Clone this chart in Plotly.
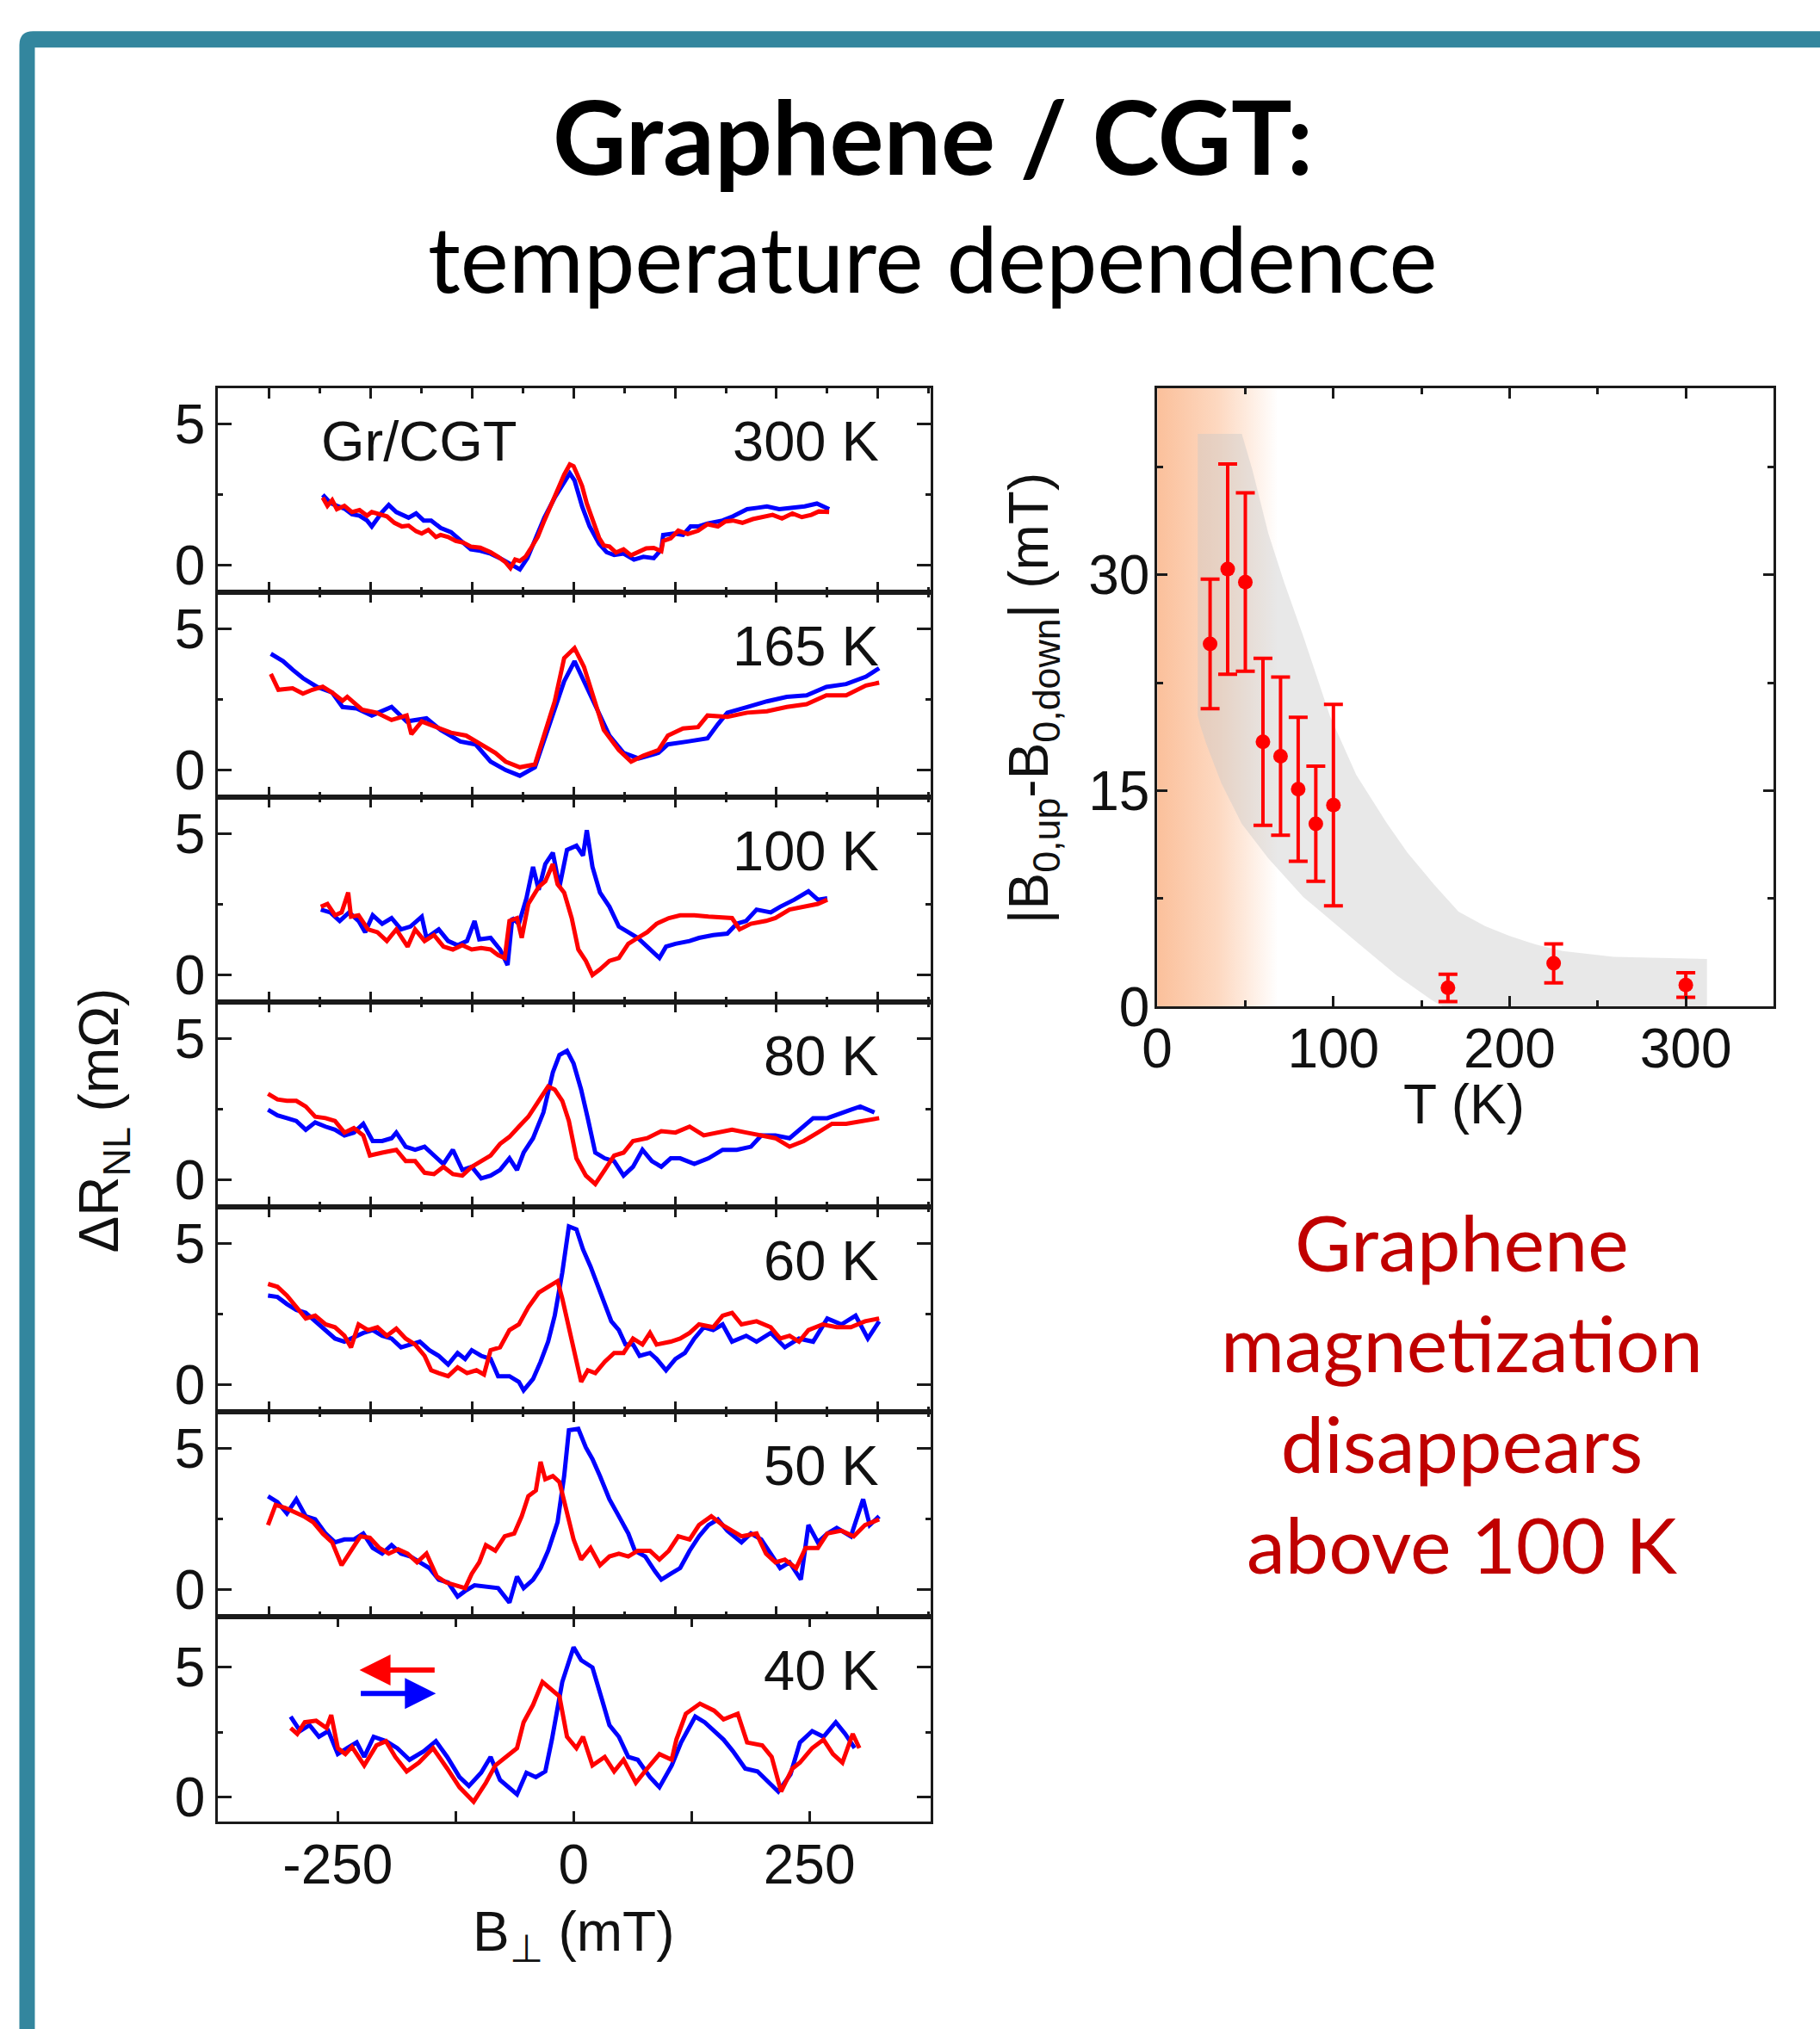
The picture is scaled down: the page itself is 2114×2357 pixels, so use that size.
import plotly.graph_objects as go

W, H = 2114, 2357

# ---------------- data: left stack (B_perp in mT, dR_NL in mOhm) ----------------
panel_labels = ["300 K", "165 K", "100 K", "80 K", "60 K", "50 K", "40 K"]

x300r = [-266,-261,-256,-251,-243,-235,-227,-219,-214,-206,-198,-190,-182,-175,-167,-161,-154,-146,-141,-133,-125,-117,-109,-99,-88,-80,-72,-67,-62,-57,-51,-46,-38,-31,-23,-17,-10,-4,0,4,9,14,21,27,32,38,45,53,61,69,77,85,93,95,103,111,121,132,142,153,161,169,179,190,200,211,221,232,242,252,260,271]
y300r = [2.39,2.10,2.30,1.98,2.10,1.88,1.95,1.75,1.88,1.80,1.73,1.50,1.37,1.40,1.20,1.12,1.25,1.00,1.07,1.00,0.86,0.80,0.66,0.62,0.46,0.30,0.10,-0.10,0.20,0.15,0.30,0.56,1.00,1.58,2.20,2.59,3.20,3.56,3.50,3.20,2.80,2.18,1.50,0.97,0.70,0.66,0.45,0.56,0.35,0.46,0.60,0.61,0.50,0.86,0.95,1.22,1.10,1.22,1.45,1.37,1.55,1.58,1.50,1.63,1.70,1.78,1.65,1.83,1.70,1.78,1.90,1.88]
x300b = [-266,-258,-251,-243,-235,-227,-219,-214,-203,-196,-188,-182,-175,-167,-159,-151,-141,-130,-120,-109,-99,-88,-78,-67,-57,-49,-41,-31,-20,-12,-4,1,9,17,27,35,43,53,64,74,85,93,95,106,116,124,132,142,158,169,184,195,205,218,232,245,258,271]
y300b = [2.49,2.20,2.10,2.00,1.80,1.75,1.58,1.37,1.88,2.13,1.88,1.78,1.68,1.83,1.58,1.58,1.32,1.17,0.86,0.56,0.51,0.41,0.25,0.05,-0.15,0.25,0.86,1.68,2.39,2.79,3.25,3.00,2.08,1.37,0.76,0.46,0.36,0.41,0.20,0.30,0.25,0.56,1.07,1.12,1.07,1.37,1.37,1.47,1.58,1.73,1.98,2.03,2.08,1.98,2.03,2.08,2.18,1.98]

x165r = [-321,-313,-298,-287,-277,-266,-256,-245,-240,-224,-209,-193,-177,-172,-161,-146,-130,-114,-99,-83,-72,-57,-41,-31,-20,-10,1,11,22,32,48,61,74,90,100,116,132,142,163,184,205,226,247,268,289,310,324]
y165r = [3.40,2.84,2.89,2.70,2.84,2.95,2.74,2.45,2.59,2.13,2.03,1.77,1.93,1.27,1.72,1.52,1.32,1.22,0.91,0.61,0.30,0.10,0.20,1.32,2.43,3.96,4.31,3.65,2.43,1.42,0.71,0.30,0.51,0.71,1.22,1.47,1.52,1.93,1.88,2.03,2.08,2.23,2.33,2.64,2.64,2.99,3.09]
x165b = [-321,-308,-298,-287,-272,-256,-245,-230,-214,-193,-177,-156,-141,-120,-104,-88,-72,-57,-41,-25,-10,1,11,27,38,53,69,90,100,121,142,153,163,184,205,226,247,268,289,310,324]
y165b = [4.11,3.85,3.55,3.25,2.94,2.74,2.23,2.18,1.93,2.23,1.72,1.83,1.42,1.01,0.91,0.30,0.00,-0.20,0.10,1.62,3.14,3.85,3.14,1.93,1.22,0.61,0.41,0.61,0.91,1.01,1.12,1.62,2.03,2.23,2.43,2.59,2.64,2.94,3.04,3.30,3.60]

x100r = [-268,-261,-253,-246,-239,-236,-228,-218,-208,-198,-188,-176,-168,-158,-148,-138,-128,-118,-108,-98,-88,-80,-73,-68,-60,-55,-48,-37,-30,-22,-17,-10,-2,5,13,20,28,38,48,58,68,78,88,101,113,128,143,158,168,176,188,204,214,229,244,259,269]
y100r = [2.41,2.51,2.11,2.21,2.91,2.06,2.11,1.61,1.51,1.20,1.61,1.00,1.61,1.20,1.41,1.00,0.90,1.05,0.90,0.95,0.90,0.70,0.60,1.91,2.01,1.31,2.51,3.11,3.31,3.92,3.21,2.91,2.01,0.90,0.50,0.00,0.20,0.50,0.60,1.10,1.31,1.51,1.81,2.01,2.11,2.11,2.06,2.01,2.01,1.61,1.81,1.91,2.01,2.31,2.41,2.51,2.66]
x100b = [-268,-258,-248,-238,-228,-221,-213,-203,-193,-183,-173,-161,-156,-143,-133,-123,-113,-105,-100,-88,-78,-70,-65,-58,-50,-43,-37,-30,-22,-15,-7,3,10,14,20,28,38,48,58,68,78,91,98,108,123,133,148,163,173,183,194,209,219,234,249,259,269]
y100b = [2.31,2.21,1.91,2.21,1.91,1.51,2.11,1.81,2.01,1.61,1.71,2.06,1.31,1.61,1.20,1.05,1.20,1.91,1.26,1.31,0.90,0.35,2.01,1.81,2.71,3.82,3.01,3.92,4.32,3.11,4.42,4.57,4.22,5.12,3.82,2.91,2.41,1.71,1.51,1.31,1.00,0.60,1.00,1.10,1.20,1.31,1.41,1.46,1.81,1.91,2.31,2.21,2.41,2.66,2.96,2.66,2.71]

x80r = [-324,-314,-304,-294,-284,-274,-263,-253,-243,-233,-223,-216,-203,-188,-178,-168,-158,-148,-138,-128,-118,-108,-98,-88,-78,-68,-58,-48,-37,-27,-20,-12,-5,3,13,23,33,43,53,63,78,93,108,123,138,153,168,183,199,214,229,244,259,274,289,304,324]
y80r = [3.04,2.84,2.79,2.79,2.59,2.23,2.18,2.08,1.67,1.83,1.57,0.86,0.96,1.06,0.66,0.66,0.25,0.20,0.46,0.20,0.15,0.46,0.66,0.86,1.27,1.52,1.88,2.23,2.79,3.30,3.19,2.79,2.08,0.76,0.15,-0.15,0.35,0.86,0.96,1.37,1.47,1.72,1.67,1.88,1.57,1.67,1.77,1.67,1.57,1.47,1.17,1.37,1.67,1.98,1.98,2.08,2.18]
x80b = [-324,-314,-304,-294,-284,-274,-263,-253,-243,-233,-223,-213,-203,-193,-188,-178,-168,-158,-148,-138,-128,-118,-108,-98,-88,-78,-68,-60,-53,-43,-32,-22,-15,-7,0,8,15,23,33,43,53,63,73,83,93,103,113,128,143,158,173,188,199,214,229,244,254,269,284,294,304,319]
y80b = [2.48,2.28,2.18,2.08,1.77,2.03,1.88,1.77,1.57,1.67,1.98,1.37,1.37,1.47,1.67,1.17,1.06,1.17,0.86,0.56,1.06,0.35,0.46,0.05,0.15,0.35,0.76,0.35,0.96,1.47,2.38,3.80,4.41,4.56,4.11,3.19,2.18,0.96,0.76,0.66,0.15,0.46,1.06,0.66,0.46,0.76,0.76,0.56,0.76,1.06,1.06,1.17,1.57,1.57,1.47,1.88,2.18,2.18,2.38,2.48,2.59,2.38]

x60r = [-324,-314,-304,-294,-284,-274,-263,-253,-243,-236,-228,-218,-208,-198,-188,-178,-168,-158,-151,-143,-133,-123,-113,-103,-95,-88,-78,-68,-58,-48,-37,-27,-17,-12,-5,3,8,15,23,33,43,53,63,73,81,88,103,113,123,133,148,158,168,178,194,209,219,229,239,249,264,279,294,309,324]
y60r = [3.56,3.46,3.15,2.74,2.34,2.44,2.13,2.03,1.73,1.32,2.13,1.93,2.03,1.73,1.98,1.63,1.42,1.02,0.51,0.41,0.30,0.61,0.41,0.51,0.36,1.22,1.32,1.93,2.13,2.74,3.25,3.46,3.66,3.05,2.03,0.81,0.10,0.51,0.41,0.81,1.12,1.12,1.63,1.42,1.83,1.42,1.52,1.63,1.83,2.13,2.03,2.44,2.54,2.13,2.24,2.03,1.63,1.73,1.52,1.93,2.13,2.03,2.03,2.24,2.34]
x60b = [-324,-314,-304,-294,-284,-274,-263,-253,-243,-233,-223,-213,-203,-193,-183,-173,-163,-153,-143,-133,-123,-115,-108,-98,-88,-80,-68,-58,-53,-43,-35,-27,-20,-12,-5,3,10,18,25,33,40,48,55,63,70,81,88,98,108,118,128,138,148,158,168,183,194,209,224,239,254,269,284,299,312,324]
y60b = [3.15,3.10,2.85,2.64,2.54,2.24,1.93,1.63,1.52,1.68,1.83,1.93,1.73,1.63,1.32,1.42,1.52,1.22,1.02,0.71,1.12,0.91,1.22,1.02,0.91,0.30,0.30,0.10,-0.20,0.20,0.81,1.52,2.44,3.96,5.59,5.49,4.78,4.17,3.56,2.95,2.24,1.93,1.42,1.42,1.02,1.12,0.91,0.51,0.91,1.12,1.63,2.03,1.93,2.13,1.52,1.73,1.52,1.83,1.32,1.63,1.52,2.34,2.13,2.44,1.63,2.24]

x50r = [-324,-316,-306,-296,-286,-276,-266,-256,-246,-236,-226,-216,-206,-196,-186,-176,-166,-156,-145,-135,-125,-115,-108,-100,-93,-83,-73,-63,-55,-48,-40,-35,-30,-22,-15,-7,0,8,18,28,38,48,58,68,81,91,101,111,123,133,146,158,168,178,194,204,214,224,236,246,259,269,284,297,309,324]
y50r = [2.28,2.99,2.89,2.74,2.59,2.38,1.98,1.67,0.86,1.37,1.88,1.83,1.47,1.27,1.42,1.27,0.96,1.27,0.46,0.25,0.15,0.05,0.56,0.96,1.57,1.37,1.88,1.98,2.59,3.30,3.50,4.51,3.90,4.01,3.80,2.79,1.77,1.06,1.47,0.86,1.17,1.27,1.17,1.37,1.37,1.06,1.37,1.88,1.77,2.28,2.59,2.28,2.08,1.88,1.98,1.27,0.96,1.06,0.76,1.47,1.47,1.98,2.08,1.88,2.28,2.48]
x50b = [-324,-314,-304,-294,-284,-274,-263,-253,-243,-233,-223,-213,-203,-193,-183,-173,-163,-153,-143,-133,-123,-115,-105,-93,-80,-68,-60,-53,-43,-35,-27,-17,-10,-5,5,13,20,28,38,48,58,65,76,86,93,103,113,123,133,143,153,163,178,188,199,209,219,229,241,249,259,269,279,294,307,314,324]
y50b = [3.30,3.09,2.69,3.19,2.59,2.48,1.98,1.67,1.77,1.77,1.98,1.47,1.27,1.57,1.27,1.17,0.96,0.76,0.35,0.25,-0.25,-0.05,0.15,0.10,0.05,-0.46,0.46,0.05,0.35,0.76,1.37,2.38,4.01,5.63,5.68,5.02,4.61,4.01,3.19,2.59,1.98,1.37,1.17,0.66,0.35,0.56,0.76,1.37,1.88,2.28,2.48,2.08,1.67,1.98,1.77,1.27,0.76,0.96,0.35,2.28,1.67,1.98,2.18,1.88,3.19,2.28,2.59]

x40r = [-300,-293,-285,-273,-262,-257,-250,-242,-235,-222,-209,-199,-189,-177,-164,-149,-134,-121,-106,-93,-83,-71,-60,-53,-43,-33,-23,-15,-7,3,10,20,33,43,53,66,78,91,104,109,119,134,149,159,174,184,200,210,220,232,240,253,265,275,285,296,303]
y40r = [2.66,2.43,2.88,2.94,2.66,3.16,1.88,1.65,1.93,1.21,1.99,2.15,1.54,0.98,1.32,1.88,1.09,0.37,-0.19,0.54,1.21,1.54,1.88,2.88,3.55,4.44,4.11,3.88,2.32,1.88,2.32,1.21,1.54,0.98,1.43,0.54,1.09,1.65,1.43,2.21,3.21,3.60,3.33,2.99,3.21,2.10,1.99,1.54,0.20,1.09,1.32,1.88,2.21,1.65,1.32,2.43,1.88]
x40b = [-300,-290,-280,-270,-260,-250,-240,-230,-222,-212,-199,-187,-174,-159,-146,-134,-121,-111,-98,-88,-78,-60,-50,-40,-30,-23,-12,0,8,20,30,38,48,58,68,81,91,104,114,129,139,149,159,169,182,195,207,217,230,240,253,265,278,288,298]
y40b = [3.10,2.54,2.77,2.32,2.54,1.65,1.88,2.10,1.54,2.32,2.15,1.88,1.43,1.76,2.15,1.54,0.76,0.42,0.93,1.54,0.65,0.09,0.93,0.76,0.98,2.21,4.44,5.78,5.28,5.00,3.77,2.77,2.32,1.54,1.43,0.76,0.37,1.21,2.10,3.10,2.88,2.54,2.21,1.76,1.09,0.98,0.54,0.20,0.87,2.10,2.54,2.32,2.88,2.43,1.88]

curves = [
    (x300r, y300r, x300b, y300b),
    (x165r, y165r, x165b, y165b),
    (x100r, y100r, x100b, y100b),
    (x80r, y80r, x80b, y80b),
    (x60r, y60r, x60b, y60b),
    (x50r, y50r, x50b, y50b),
    (x40r, y40r, x40b, y40b),
]

# ---------------- data: right panel ----------------
T_pts = [30, 40, 50, 60, 70, 80, 90, 100, 165, 225, 300]
dB_pts = [25.2, 30.4, 29.5, 18.4, 17.4, 15.1, 12.7, 14.0, 1.3, 3.0, 1.5]
dB_err = [4.5, 7.3, 6.2, 5.8, 5.5, 5.0, 4.0, 7.0, 0.95, 1.35, 0.85]

band_upper_T = [23, 48, 54, 63, 72, 83, 98, 113, 130, 142, 157, 171, 186, 200, 215, 230, 259, 312]
band_upper_B = [39.8, 39.8, 37.3, 32.9, 29.5, 25.7, 20.2, 16.1, 12.8, 10.7, 8.5, 6.6, 5.6, 4.9, 4.3, 3.86, 3.45, 3.3]
band_lower_T = [312, 162, 156, 136, 113, 83, 63, 48, 36.5, 28, 24.5, 23]
band_lower_B = [0, 0, 0.44, 2.15, 4.5, 7.6, 10.3, 12.7, 15.5, 18.2, 19.5, 20.2]

shade_T = [0, 68, 68, 0, 0]
shade_B = [0, 0, 43, 43, 0]

# empirical correction for how the page gets photographed (scale + offset)
SX, OX = 0.99248, 15.5
SY, OY = 0.98646, -2.3
FS = 1.0 / 0.99


def px(x):
    return ((x - OX) / SX) / W


def py(y):
    return 1 - ((y - OY) / SY) / H


def fs(v):
    return round(v * FS)


def sfx(n):
    return "" if n == 1 else str(n)


RED = "#ff0000"
BLUE = "#0000ff"
AX = "#1a1a1a"
ARIAL = "Liberation Sans, Arial, sans-serif"
TICKFONT = dict(family=ARIAL, size=fs(63), color="#111111")
LBLFONT = dict(family=ARIAL, size=fs(64), color="#111111")

fig = go.Figure()
layout = dict(
    width=W, height=H, margin=dict(l=0, r=0, t=0, b=0),
    paper_bgcolor="white", plot_bgcolor="rgba(0,0,0,0)", showlegend=False,
)

panel_top0 = 449
panel_h = 238.4
annotations = []

for i in range(7):
    n = i + 1
    s = sfx(n)
    xr, yr, xb, yb = curves[i]
    m = min(len(xb), len(yb))
    fig.add_trace(go.Scatter(x=xb[:m], y=yb[:m], mode="lines",
                             line=dict(color=BLUE, width=5), xaxis=f"x{s}", yaxis=f"y{s}"))
    m = min(len(xr), len(yr))
    fig.add_trace(go.Scatter(x=xr[:m], y=yr[:m], mode="lines",
                             line=dict(color=RED, width=5), xaxis=f"x{s}", yaxis=f"y{s}"))
    top = panel_top0 + i * panel_h
    bot = top + panel_h
    xa = dict(domain=[px(251), px(1080)], range=[-377, 379], anchor=f"y{s}",
              showline=True, linecolor=AX, linewidth=3, mirror="ticks",
              ticks="inside", ticklen=12, tickwidth=3, tickcolor=AX,
              showgrid=False, zeroline=False, tickfont=TICKFONT)
    if i < 6:
        xa.update(tickmode="linear", tick0=0, dtick=107.6, showticklabels=False,
                  minor=dict(tickmode="linear", tick0=0, dtick=53.8, ticklen=6,
                             tickwidth=3, tickcolor=AX, ticks="inside", showgrid=False))
        yrange = [-0.97, 6.27]
    else:
        xa.update(tickmode="array", tickvals=[-250, 0, 250],
                  ticktext=["-250", "0", "250"], showticklabels=True,
                  ticklabelstandoff=-8,
                  minor=dict(tickmode="array", tickvals=[-125, 125], ticklen=12,
                             tickwidth=3, tickcolor=AX, ticks="inside", showgrid=False))
        yrange = [-0.97, 6.95]
    ya = dict(domain=[py(bot), py(top)], range=yrange, anchor=f"x{s}",
              showline=True, linecolor=AX, linewidth=3, mirror="ticks",
              ticks="inside", ticklen=16, tickwidth=3, tickcolor=AX,
              tickmode="array", tickvals=[0, 5], ticktext=["0", "5"],
              showgrid=False, zeroline=False, tickfont=TICKFONT, ticklabelstandoff=-1,
              minor=dict(tickmode="array", tickvals=[2.5], ticklen=6, tickwidth=3,
                         tickcolor=AX, ticks="inside", showgrid=False))
    layout[f"xaxis{s}"] = xa
    layout[f"yaxis{s}"] = ya
    annotations.append(dict(text=panel_labels[i], xref=f"x{s} domain", yref=f"y{s} domain",
                            x=0.93, y=0.74, xanchor="right", yanchor="middle",
                            showarrow=False, font=LBLFONT))

annotations.append(dict(text="Gr/CGT", xref="x domain", yref="y domain", x=0.142, y=0.74,
                        xanchor="left", yanchor="middle", showarrow=False, font=LBLFONT))

# sweep-direction arrows in the 40 K panel
annotations.append(dict(x=-227, y=4.9, ax=-146, ay=4.9, xref="x7", yref="y7", axref="x7", ayref="y7",
                        text="", showarrow=True, arrowhead=2, arrowsize=1.2, arrowwidth=6,
                        arrowcolor=RED))
annotations.append(dict(x=-146, y=3.99, ax=-227, ay=3.99, xref="x7", yref="y7", axref="x7", ayref="y7",
                        text="", showarrow=True, arrowhead=2, arrowsize=1.2, arrowwidth=6,
                        arrowcolor=BLUE))

# left axis titles
annotations.append(dict(text="ΔR<sub>NL</sub> (mΩ)", xref="paper", yref="paper", x=px(117), y=py(1301),
                        textangle=-90, showarrow=False, xanchor="center", yanchor="middle",
                        font=dict(family=ARIAL, size=fs(63), color="#111111")))
annotations.append(dict(text="B<sub>⊥</sub> (mT)", xref="paper", yref="paper", x=px(665), y=py(2250),
                        showarrow=False, xanchor="center", yanchor="middle",
                        font=dict(family=ARIAL, size=fs(63), color="#111111")))

# ---------------- right panel ----------------
fig.add_trace(go.Scatter(x=shade_T, y=shade_B, mode="lines", line=dict(width=0),
                         fill="toself",
                         fillgradient=dict(type="horizontal", start=0, stop=68,
                                           colorscale=[[0, "rgb(251,192,155)"], [0.5, "rgb(253,216,192)"],
                                                       [1, "rgb(255,255,255)"]]),
                         xaxis="x8", yaxis="y8", hoverinfo="skip"))
fig.add_trace(go.Scatter(x=band_upper_T + band_lower_T, y=band_upper_B + band_lower_B,
                         mode="lines", line=dict(width=0), fill="toself",
                         fillcolor="rgba(200,200,200,0.42)", xaxis="x8", yaxis="y8", hoverinfo="skip"))
fig.add_trace(go.Scatter(x=T_pts, y=dB_pts, mode="markers",
                         marker=dict(color=RED, size=17),
                         error_y=dict(type="data", array=dB_err, color=RED, thickness=4, width=11),
                         xaxis="x8", yaxis="y8"))

RTICK = dict(family=ARIAL, size=fs(63), color="#111111")
layout["xaxis8"] = dict(domain=[px(1343), px(2060)], range=[0, 350], anchor="y8",
                        showline=True, linecolor=AX, linewidth=3, mirror="ticks",
                        ticks="inside", ticklen=12, tickwidth=3, tickcolor=AX,
                        tickmode="array", tickvals=[0, 100, 200, 300],
                        showgrid=False, zeroline=False, tickfont=RTICK, ticklabelstandoff=-9,
                        minor=dict(tickmode="array", tickvals=[50, 150, 250], ticklen=7, tickwidth=3,
                                   tickcolor=AX, ticks="inside", showgrid=False))
layout["yaxis8"] = dict(domain=[py(1169), py(449)], range=[0, 43], anchor="x8",
                        showline=True, linecolor=AX, linewidth=3, mirror="ticks",
                        ticks="inside", ticklen=12, tickwidth=3, tickcolor=AX,
                        tickmode="array", tickvals=[0, 15, 30],
                        showgrid=False, zeroline=False, tickfont=RTICK, ticklabelstandoff=-7,
                        minor=dict(tickmode="array", tickvals=[7.5, 22.5, 37.5], ticklen=7, tickwidth=3,
                                   tickcolor=AX, ticks="inside", showgrid=False))

annotations.append(dict(text="T (K)", xref="paper", yref="paper", x=px(1700), y=py(1283),
                        showarrow=False, xanchor="center", yanchor="middle",
                        font=dict(family=ARIAL, size=fs(63), color="#111111")))
annotations.append(dict(text="|B<sub>0,up</sub>-B<sub>0,down</sub>| (mT)", xref="paper", yref="paper",
                        x=px(1198), y=py(810), textangle=-90, showarrow=False,
                        xanchor="center", yanchor="middle",
                        font=dict(family=ARIAL, size=fs(63), color="#111111")))

# ---------------- titles and note ----------------
annotations.append(dict(text="<b>Graphene / CGT:</b>", xref="paper", yref="paper", x=px(1082), y=py(155),
                        showarrow=False, xanchor="center", yanchor="middle",
                        font=dict(family="Lato, Carlito, sans-serif", size=fs(117), color="#000000")))
annotations.append(dict(text="temperature dependence", xref="paper", yref="paper", x=px(1082), y=py(297),
                        showarrow=False, xanchor="center", yanchor="middle",
                        font=dict(family="Lato, Carlito, sans-serif", size=fs(105), color="#000000")))
annotations.append(dict(text="Graphene<br>magnetization<br>disappears<br>above 100 K",
                        xref="paper", yref="paper", x=px(1697), y=py(1618),
                        showarrow=False, xanchor="center", yanchor="middle", align="center",
                        font=dict(family="Lato, Carlito, sans-serif", size=fs(89), color="#C00000")))

layout["annotations"] = annotations

# teal frame (top bar + left bar with rounded outer corner)
frame_path = (f"M {px(2160)},{py(34)} L {px(36)},{py(34)} Q {px(20)},{py(34)} {px(20)},{py(50)} "
              f"L {px(20)},{py(2400)} L {px(38)},{py(2400)} L {px(38)},{py(53)} L {px(2160)},{py(53)} Z")
layout["shapes"] = [dict(type="path", path=frame_path, xref="paper", yref="paper",
                         fillcolor="#33869E", line=dict(width=0), layer="above")]

fig.update_layout(**layout)

page_fix = ("document.documentElement.style.margin='0';document.documentElement.style.padding='0';"
            "document.documentElement.style.overflow='hidden';"
            "document.body.style.margin='0';document.body.style.padding='0';"
            "document.body.style.overflow='hidden';"
            "var gd=document.getElementById('{plot_id}');gd.style.display='block';"
            "if(gd.parentElement){gd.parentElement.style.margin='0';gd.parentElement.style.lineHeight='0';}")
fig.write_html("out.html", post_script=page_fix, config={"displayModeBar": False})
